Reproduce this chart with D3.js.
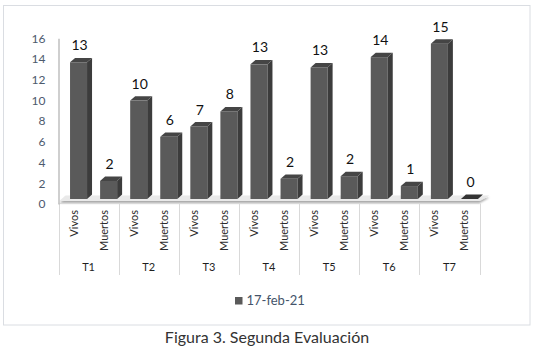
<!DOCTYPE html>
<html>
<head>
<meta charset="utf-8">
<script src="https://cdn.jsdelivr.net/npm/d3@7"></script>
<style>
  html, body { margin: 0; padding: 0; background: #fff; }
  svg { display: block; }
  text { font-family: Lato, "Open Sans", sans-serif; }
</style>
</head>
<body>
<svg id="chart" width="537" height="350"></svg>
<script>
// ---- data ----
const groups = ["T1", "T2", "T3", "T4", "T5", "T6", "T7"];
const subCategories = ["Vivos", "Muertos"];
const values = [13.2, 1.75, 9.5, 6, 7, 8.45, 13, 1.95, 12.7, 2.2, 13.7, 1.25, 15, 0];
const yTicks = [0, 2, 4, 6, 8, 10, 12, 14, 16];
const seriesName = "17-feb-21";
const caption = "Figura 3. Segunda Evaluación";

// ---- build rows ----
const rows = [];
groups.forEach((g, gi) => subCategories.forEach((s, si) => {
  rows.push({ key: g + "|" + s, group: g, sub: s, value: values[gi * 2 + si] });
}));

const svg = d3.select("#chart");

// outer frame
svg.append("rect").attr("x", 3.5).attr("y", 5.5).attr("width", 526.5).attr("height", 319.5)
  .attr("fill", "#fff").attr("stroke", "#dadde2").attr("stroke-width", 1);

const xLeft = 58.5, xRight = 479.5;
const x = d3.scaleBand().domain(rows.map(d => d.key)).range([xLeft, xRight]).padding(0);
const xg = d3.scaleBand().domain(groups).range([xLeft, xRight]).padding(0);
const y = d3.scaleLinear().domain([0, 16]).range([204, 38.3]);

const barW = 17, depthX = 5, depthY = 4.4, lift = 5, shift = 5;

// floor
const floorFront = y(0) - 3, floorBack = floorFront - 5.5;
const defs = svg.append("defs");
const f = defs.append("filter").attr("id", "sh").attr("x", "-5%").attr("y", "-50%").attr("width", "110%").attr("height", "250%");
f.append("feGaussianBlur").attr("in", "SourceAlpha").attr("stdDeviation", 1.2);
f.append("feOffset").attr("dx", 0).attr("dy", 1.5).attr("result", "b");
f.append("feComponentTransfer").append("feFuncA").attr("type", "linear").attr("slope", 0.35);
const fm = f.append("feMerge");
fm.append("feMergeNode");
fm.append("feMergeNode").attr("in", "SourceGraphic");

svg.append("path")
  .attr("d", `M${xLeft + 1},${floorFront} L${xRight},${floorFront} L${xRight + 10},${floorBack} L${xLeft + 7},${floorBack} Z`)
  .attr("fill", "#e9e9e9").attr("filter", "url(#sh)");

// category axis lines
svg.append("line").attr("x1", xLeft).attr("x2", xRight).attr("y1", 203.5).attr("y2", 203.5)
  .attr("stroke", "#d9d9d9");
const sepX = groups.map(g => xg(g)).concat([xRight]);
svg.selectAll(".sep").data(sepX).enter().append("line")
  .attr("x1", d => Math.round(d) + 0.5).attr("x2", d => Math.round(d) + 0.5)
  .attr("y1", 203.5).attr("y2", 275).attr("stroke", "#d9d9d9");

// y axis
const yAxis = svg.append("g").attr("transform", `translate(${xLeft},0)`)
  .call(d3.axisLeft(y).tickValues(yTicks).tickSize(0).tickSizeOuter(0).tickPadding(13));
yAxis.select(".domain").attr("stroke", "#bfbfbf").attr("stroke-width", 1.5);
yAxis.selectAll("text").attr("fill", "#4d5a6d").style("font-size", "12px")
  .style("font-family", "Lato, 'Open Sans', sans-serif");

// bars
const bars = svg.selectAll(".bar").data(rows).enter().append("g").attr("class", "bar");
const fx = d => x(d.key) + x.bandwidth() / 2 + shift - barW / 2;
const baseY = y(0) - lift;
const topY = d => y(d.value) - lift;

bars.append("rect")
  .attr("x", fx).attr("y", topY).attr("width", barW).attr("height", d => baseY - topY(d))
  .attr("fill", "#5a5a5a");
bars.append("path")
  .attr("d", d => {
    const x1 = fx(d) + barW, t = topY(d);
    return `M${x1},${t} L${x1 + depthX},${t - depthY} L${x1 + depthX},${baseY - depthY} L${x1},${baseY} Z`;
  })
  .attr("fill", "#3c3c3c");
bars.append("path")
  .attr("d", d => {
    const x0 = fx(d), t = topY(d);
    return `M${x0},${t} L${x0 + depthX},${t - depthY} L${x0 + barW + depthX},${t - depthY} L${x0 + barW},${t} Z`;
  })
  .attr("fill", d => d.value === 0 ? "#333" : "#454545");

// data labels
svg.selectAll(".lbl").data(rows).enter().append("text")
  .attr("x", d => fx(d) + barW / 2 + 1)
  .attr("y", d => topY(d) - 12)
  .attr("text-anchor", "middle")
  .style("font-size", "14px").attr("fill", "#111")
  .text(d => Math.round(d.value));

// sub-category labels (rotated)
svg.selectAll(".sub").data(rows).enter().append("text")
  .attr("transform", d => `translate(${x(d.key) + x.bandwidth() / 2 + 4},210) rotate(-90)`)
  .attr("text-anchor", "end")
  .style("font-size", "11px").attr("fill", "#2b2b2b")
  .text(d => d.sub);

// group labels
svg.selectAll(".grp").data(groups).enter().append("text")
  .attr("x", d => xg(d) + xg.bandwidth() / 2)
  .attr("y", 271)
  .attr("text-anchor", "middle")
  .style("font-size", "11px").attr("fill", "#1f1f1f")
  .text(d => d);

// legend
svg.append("rect").attr("x", 235).attr("y", 297).attr("width", 7.5).attr("height", 7.5).attr("fill", "#5a5a5a");
svg.append("text").attr("x", 246.5).attr("y", 305).style("font-size", "13px").attr("fill", "#44546a")
  .text(seriesName);

// caption
svg.append("text").attr("x", 267).attr("y", 343).attr("text-anchor", "middle")
  .style("font-size", "16px").attr("fill", "#333")
  .text(caption);
</script>
</body>
</html>
